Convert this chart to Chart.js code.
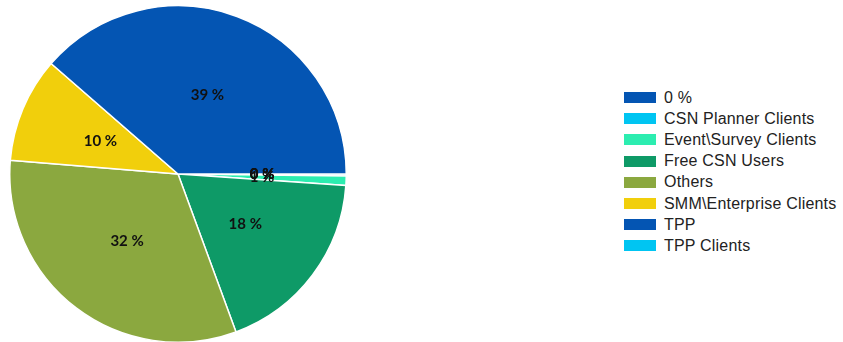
<!DOCTYPE html>
<html>
<head>
<meta charset="utf-8">
<script src="https://cdn.jsdelivr.net/npm/chart.js@4/dist/chart.umd.min.js"></script>
<style>
  body { margin: 0; background: #fff; }
  #wrap { position: relative; width: 843px; height: 342px; }
  #pieBox { position: absolute; left: 9px; top: 5px; width: 338px; height: 338px; }
  #legend { position: absolute; left: 624px; top: 87px; font: 16px "Liberation Sans", Arial, sans-serif; letter-spacing: 0.2px; color: #222; }
  #legend div { height: 21.2px; display: flex; align-items: center; }
  #legend span.box { display: inline-block; width: 32px; height: 11px; margin-right: 8px; }
</style>
</head>
<body>
<div id="wrap">
  <div id="pieBox"><canvas id="pie"></canvas></div>
  <div id="legend"></div>
</div>
<script>
const categories = ['0 %', 'CSN Planner Clients', 'Event\\Survey Clients', 'Free CSN Users', 'Others', 'SMM\\Enterprise Clients', 'TPP', 'TPP Clients'];
const shares = [0, 0.2, 0.9, 18.3, 31.9, 10.1, 38.6, 0];
const sliceColors = ['#0455b3', '#00c5f2', '#2cedb0', '#0e9a67', '#8ba83f', '#f1cf0c', '#0455b3', '#00c5f2'];

const sliceLabels = {
  id: 'sliceLabels',
  afterDatasetsDraw(chart) {
    const ctx = chart.ctx;
    const meta = chart.getDatasetMeta(0);
    ctx.save();
    ctx.font = 'bold 15px Lato, "Open Sans", sans-serif';
    ctx.fillStyle = '#111111';
    ctx.textAlign = 'center';
    ctx.textBaseline = 'middle';
    meta.data.forEach(function(arc, i) {
      const p = arc.tooltipPosition();
      ctx.fillText(Math.round(shares[i]) + ' %', p.x, p.y);
    });
    ctx.restore();
  }
};

new Chart(document.getElementById('pie'), {
  type: 'pie',
  data: {
    labels: categories,
    datasets: [{
      data: shares,
      backgroundColor: sliceColors,
      borderColor: '#ffffff',
      borderWidth: 1.5,
      hoverOffset: 0
    }]
  },
  options: {
    responsive: true,
    maintainAspectRatio: false,
    animation: false,
    rotation: 90,
    layout: { padding: 0 },
    plugins: {
      legend: { display: false },
      tooltip: { enabled: false }
    }
  },
  plugins: [sliceLabels]
});

const legend = document.getElementById('legend');
categories.forEach(function(name, i) {
  const row = document.createElement('div');
  const box = document.createElement('span');
  box.className = 'box';
  box.style.background = sliceColors[i];
  row.appendChild(box);
  row.appendChild(document.createTextNode(name));
  legend.appendChild(row);
});
</script>
</body>
</html>
